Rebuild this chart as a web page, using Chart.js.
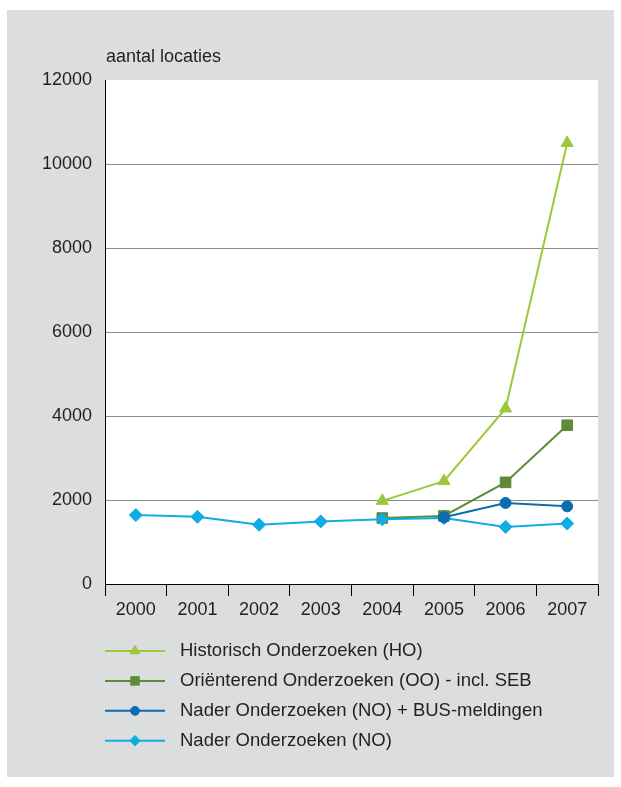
<!DOCTYPE html>
<html>
<head>
<meta charset="utf-8">
<script src="https://cdn.jsdelivr.net/npm/chart.js@4/dist/chart.umd.min.js"></script>
<style>
  html, body { margin: 0; padding: 0; background: #fff; }
  #wrap { position: relative; width: 621px; height: 787px; }
</style>
</head>
<body>
<div id="wrap"><canvas id="grafiek" width="621" height="787"></canvas></div>
<script>
// gegevens uit de figuur
const jaren = ["2000", "2001", "2002", "2003", "2004", "2005", "2006", "2007"];
const historisch = [null, null, null, null, 1980, 2450, 4180, 10500];
const orienterend = [null, null, null, null, 1570, 1620, 2420, 3780];
const naderBus = [null, null, null, null, null, 1590, 1930, 1850];
const nader = [1640, 1600, 1410, 1490, 1540, 1570, 1360, 1440];
const yMin = 0, yMax = 12000, yStap = 2000;
const asTitel = "aantal locaties";

const tekstKleur = "#231f20";
const lettertype = "'Liberation Sans', Arial, sans-serif";

// achtergrond: grijs paneel + wit plotvlak
const achtergrond = {
  id: "achtergrond",
  beforeDraw(chart) {
    const ctx = chart.ctx;
    const a = chart.chartArea;
    ctx.save();
    ctx.fillStyle = "#fff";
    ctx.fillRect(0, 0, chart.width, chart.height);
    ctx.fillStyle = "#dcdddf";
    ctx.fillRect(7, 10, 607, 767);
    ctx.fillStyle = "#fff";
    ctx.fillRect(a.left, a.top, a.right - a.left, a.bottom - a.top);
    ctx.restore();
  },
  afterDraw(chart) {
    const ctx = chart.ctx;
    const a = chart.chartArea;
    ctx.save();
    ctx.fillStyle = tekstKleur;
    ctx.font = "18px " + lettertype;
    ctx.textBaseline = "middle";
    ctx.fillText(asTitel, a.left + 1, 57);

    // legenda: lijn met marker, één per regel
    chart.data.datasets.forEach((ds, i) => {
      const y = a.bottom + 67 + i * 29.9;
      const x0 = a.left, x1 = a.left + 60;
      ctx.strokeStyle = ds.borderColor;
      ctx.lineWidth = 2;
      ctx.beginPath();
      ctx.moveTo(x0, y);
      ctx.lineTo(x1, y);
      ctx.stroke();
      ctx.fillStyle = ds.pointBackgroundColor;
      ctx.strokeStyle = ds.pointBackgroundColor;
      ctx.lineWidth = 1;
      Chart.helpers.drawPoint(ctx, {
        pointStyle: ds.pointStyle,
        radius: ds.pointRadius * 0.8,
        borderWidth: 1,
        rotation: 0
      }, (x0 + x1) / 2, y);
      ctx.fillStyle = tekstKleur;
      ctx.font = "18.5px " + lettertype;
      ctx.fillText(ds.label, a.left + 75, y);
    });
    ctx.restore();
  }
};

function reeks(label, data, kleur, stijl, straal, volgorde) {
  return {
    label: label,
    data: data,
    borderColor: kleur,
    backgroundColor: kleur,
    pointBackgroundColor: kleur,
    pointBorderColor: kleur,
    pointBorderWidth: 1,
    pointStyle: stijl,
    pointRadius: straal,
    pointHoverRadius: straal,
    borderWidth: 2,
    tension: 0,
    order: volgorde
  };
}

new Chart(document.getElementById("grafiek"), {
  type: "line",
  data: {
    labels: jaren,
    datasets: [
      reeks("Historisch Onderzoeken (HO)", historisch, "#9cc83c", "triangle", 7, 0),
      reeks("Oriënterend Onderzoeken (OO) - incl. SEB", orienterend, "#5e8b38", "rect", 7.5, 3),
      reeks("Nader Onderzoeken (NO) + BUS-meldingen", naderBus, "#0a6db2", "circle", 5.5, 1),
      reeks("Nader Onderzoeken (NO)", nader, "#10ace4", "rectRot", 6.5, 2)
    ]
  },
  options: {
    responsive: false,
    animation: false,
    layout: { padding: { top: 80, right: 23, bottom: 163, left: 0 } },
    plugins: {
      legend: { display: false },
      tooltip: { enabled: false }
    },
    scales: {
      x: {
        offset: true,
        grid: {
          offset: true,
          drawOnChartArea: false,
          drawTicks: true,
          tickLength: 12,
          tickColor: "#000",
          lineWidth: 1
        },
        border: { display: true, color: "#000", width: 1 },
        ticks: {
          color: tekstKleur,
          font: { family: lettertype, size: 18 },
          padding: 3,
          maxRotation: 0
        },
        afterFit(scale) { scale.height = 40; }
      },
      y: {
        min: yMin,
        max: yMax,
        grid: {
          drawTicks: false,
          lineWidth: 1,
          color: (c) => (c.tick && c.tick.value > yMin && c.tick.value < yMax) ? "#8c8c8c" : "rgba(0,0,0,0)"
        },
        border: { display: true, color: "#000", width: 1 },
        ticks: {
          stepSize: yStap,
          color: tekstKleur,
          font: { family: lettertype, size: 18 },
          padding: 13,
          callback: (v) => String(v)
        },
        afterFit(scale) { scale.width = 105; }
      }
    }
  },
  plugins: [achtergrond]
});
</script>
</body>
</html>
